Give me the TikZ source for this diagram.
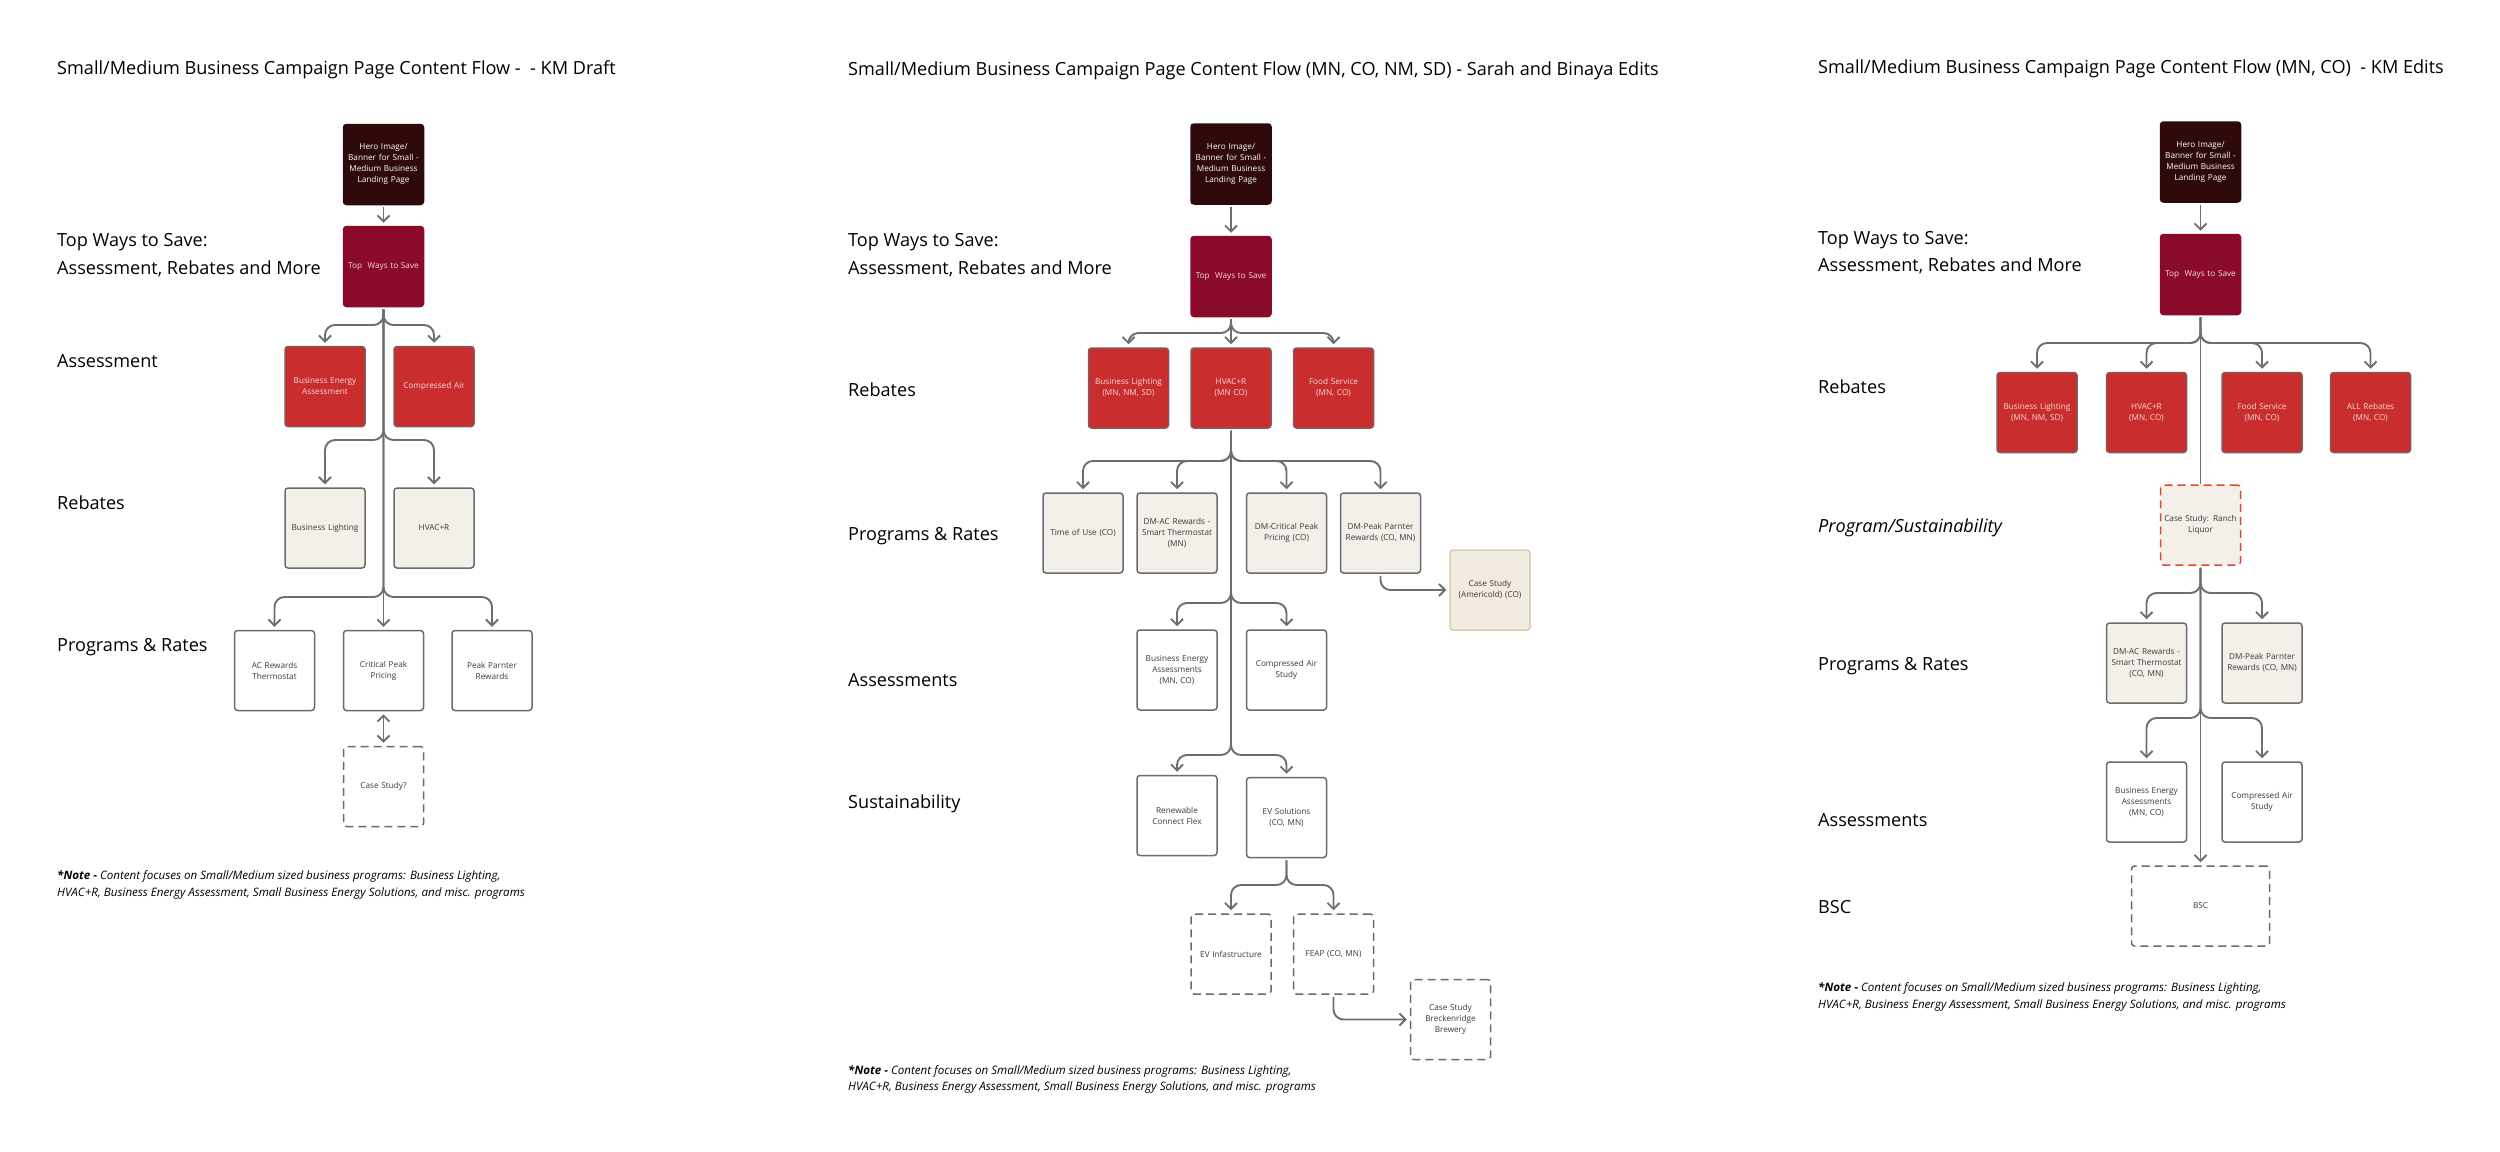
\documentclass[tikz,border=0pt]{standalone}
\usepackage{fontspec}
\setmainfont{Open Sans}
\usetikzlibrary{arrows.meta,calc}
\definecolor{heroC}{HTML}{2E0A0B}
\definecolor{topC}{HTML}{8A0A2C}
\definecolor{redC}{HTML}{C92D2D}
\definecolor{beigeC}{HTML}{F3EFE9}
\definecolor{borderC}{HTML}{6B6B6B}
\definecolor{lineC}{HTML}{6E6E6E}
\definecolor{txtC}{HTML}{3A3A3A}
\definecolor{ameriF}{HTML}{F2EBE0}
\definecolor{ameriB}{HTML}{DCCBB0}
\definecolor{ranchB}{HTML}{E04A2C}
\definecolor{pinkT}{HTML}{F8DADA}
\newcommand\boxfont{\fontsize{8.2}{11}\selectfont}
\newcommand\labfont{\fontsize{18.1}{27}\selectfont}
\newcommand\notefont{\fontsize{11.6}{16.5}\selectfont\itshape}
\tikzset{
  box/.style={rectangle, rounded corners=3pt, minimum width=80pt, minimum height=80pt,
    inner sep=2pt, align=center, text width=74pt, font=\boxfont, line width=1.5pt, text=txtC},
  herobox/.style={box, fill=heroC, draw=heroC, text=white},
  topbox/.style={box, fill=topC, draw=topC, text=pinkT},
  redbox/.style={box, fill=redC, draw=borderC!70!redC, text=pinkT},
  beigebox/.style={box, fill=beigeC, draw=borderC},
  whitebox/.style={box, fill=white, draw=borderC},
  dashbox/.style={box, fill=white, draw=borderC, dash pattern=on 8pt off 5pt},
  amerbox/.style={box, fill=ameriF, draw=ameriB},
  ranchbox/.style={box, fill=beigeC, draw=ranchB, dash pattern=on 8pt off 5pt},
  conn/.style={draw=lineC, line width=1.9pt, rounded corners=10pt, shorten <=2pt},
  arr/.style={conn, -{Straight Barb[length=6pt,width=12pt]}, shorten >=3pt},
  dbl/.style={conn, {Straight Barb[length=6pt,width=12pt]}-{Straight Barb[length=6pt,width=12pt]}, shorten >=3pt, shorten <=3pt},
  lab/.style={anchor=base west, font=\labfont, text=black, inner sep=0pt},
  note/.style={anchor=base west, font=\notefont, text=black, inner sep=0pt},
}
\begin{document}
\begin{tikzpicture}[x=1pt,y=-1pt]
\useasboundingbox[fill=white] (0,0) rectangle (2500,1151);

% ================= Panel 1 =================
\node[lab] (ttl1) at (57,74.3) {Small/Medium Business Campaign Page Content Flow -~ - KM Draft};
\node[lab] (l1a) at (57,246.7) {Top Ways to Save:};
\node[lab] (l1b) at (57,274.3) {Assessment, Rebates and More};
\node[lab] (l1c) at (57,367.7) {Assessment};
\node[lab] (l1d) at (57,509) {Rebates};
\node[lab] (l1e) at (57,651.7) {Programs \& Rates};
\node[note] (n1a) at (57,879.5) {\textbf{*Note -} Content focuses on Small/Medium sized business programs: Business Lighting,};
\node[note] (n1b) at (57,896) {HVAC+R, Business Energy Assessment, Small Business Energy Solutions, and misc. programs};

\node[herobox] (h1) at (383.5,164.5) {Hero Image/\\Banner for Small -\\Medium Business\\Landing Page};
\node[topbox] (t1) at (383.5,266.5) {Top~ Ways to Save};
\node[redbox] (a1a) at (325,386.5) {Business Energy\\Assessment};
\node[redbox] (a1b) at (434,386.5) {Compressed Air};
\node[beigebox] (r1a) at (325,528) {Business Lighting};
\node[beigebox] (r1b) at (434,528) {HVAC+R};
\node[whitebox] (p1a) at (274.5,670.5) {AC Rewards\\Thermostat};
\node[whitebox] (p1b) at (383.5,670.5) {Critical Peak\\Pricing};
\node[whitebox] (p1c) at (492,670.5) {Peak Parnter\\Rewards};
\node[dashbox] (c1) at (383.5,786.5) {Case Study?};

\coordinate (k1a) at (383.5,325);
\coordinate (k1b) at (383.5,440);
\coordinate (k1c) at (383.5,597);

\draw[arr] (h1) -- (t1);
\draw[arr] (t1.south) |- (k1a -| a1a.north) -- (a1a.north);
\draw[arr] (t1.south) |- (k1a -| a1b.north) -- (a1b.north);
\draw[arr] (t1.south) |- (k1b -| r1a.north) -- (r1a.north);
\draw[arr] (t1.south) |- (k1b -| r1b.north) -- (r1b.north);
\draw[arr] (t1.south) |- (k1c -| p1a.north) -- (p1a.north);
\draw[arr] (t1.south) |- (k1c -| p1c.north) -- (p1c.north);
\draw[arr] (t1.south) -- (p1b.north);
\draw[dbl] (p1b.south) -- (c1.north);

% ================= Panel 2 =================
\node[lab] (ttl2) at (848,75) {Small/Medium Business Campaign Page Content Flow (MN, CO, NM, SD) - Sarah and Binaya Edits};
\node[lab] (l2a) at (848,246.7) {Top Ways to Save:};
\node[lab] (l2b) at (848,274) {Assessment, Rebates and More};
\node[lab] (l2c) at (848,396) {Rebates};
\node[lab] (l2d) at (848,540.7) {Programs \& Rates};
\node[lab] (l2e) at (848,686) {Assessments};
\node[lab] (l2f) at (848,808.3) {Sustainability};
\node[note] (n2a) at (848,1074.3) {\textbf{*Note -} Content focuses on Small/Medium sized business programs: Business Lighting,};
\node[note] (n2b) at (848,1090.7) {HVAC+R, Business Energy Assessment, Small Business Energy Solutions, and misc. programs};

\node[herobox] (h2) at (1231,164) {Hero Image/\\Banner for Small -\\Medium Business\\Landing Page};
\node[topbox] (t2) at (1231,276.5) {Top~ Ways to Save};
\node[redbox] (r2a) at (1128.5,388) {Business Lighting\\(MN, NM, SD)};
\node[redbox] (r2b) at (1231,388) {HVAC+R\\(MN CO)};
\node[redbox] (r2c) at (1333.5,388) {Food Service\\(MN, CO)};
\node[beigebox] (p2a) at (1083,533) {Time of Use (CO)};
\node[beigebox] (p2b) at (1177,533) {DM-AC Rewards -\\Smart Thermostat\\(MN)};
\node[beigebox] (p2c) at (1286.5,533) {DM-Critical Peak\\Pricing (CO)};
\node[beigebox] (p2d) at (1380.5,533) {DM-Peak Parnter\\Rewards (CO, MN)};
\node[amerbox] (cs2a) at (1490,590) {Case Study\\(Americold) (CO)};
\node[whitebox] (a2a) at (1177,670) {Business Energy\\Assessments\\(MN, CO)};
\node[whitebox] (a2b) at (1286.5,670) {Compressed Air\\Study};
\node[whitebox] (s2a) at (1177,815.5) {Renewable\\Connect Flex};
\node[whitebox] (s2b) at (1286.5,817.5) {EV Solutions\\(CO, MN)};
\node[dashbox] (e2a) at (1231,954) {EV Infastructure};
\node[dashbox] (e2b) at (1333.5,954) {FEAP (CO, MN)};
\node[dashbox] (cs2b) at (1450.5,1019.5) {Case Study\\Breckenridge\\Brewery};

\coordinate (k2a) at (1231,333);
\coordinate (k2b) at (1231,461);
\coordinate (k2c) at (1231,603);
\coordinate (k2d) at (1231,755);
\coordinate (k2e) at (1286.5,885);

\draw[arr] (h2) -- (t2);
\draw[arr] (t2.south) |- (k2a -| r2a.north) -- (r2a.north);
\draw[arr] (t2.south) -- (r2b.north);
\draw[arr] (t2.south) |- (k2a -| r2c.north) -- (r2c.north);
\draw[arr] (r2b.south) |- (k2b -| p2a.north) -- (p2a.north);
\draw[arr] (r2b.south) |- (k2b -| p2b.north) -- (p2b.north);
\draw[arr] (r2b.south) |- (k2b -| p2c.north) -- (p2c.north);
\draw[arr] (r2b.south) |- (k2b -| p2d.north) -- (p2d.north);
\draw[arr] (p2d.south) |- (cs2a.west);
\draw[arr] (r2b.south) |- (k2c -| a2a.north) -- (a2a.north);
\draw[arr] (r2b.south) |- (k2c -| a2b.north) -- (a2b.north);
\draw[arr] (r2b.south) |- (k2d -| s2a.north) -- (s2a.north);
\draw[arr] (r2b.south) |- (k2d -| s2b.north) -- (s2b.north);
\draw[arr] (s2b.south) |- (k2e -| e2a.north) -- (e2a.north);
\draw[arr] (s2b.south) |- (k2e -| e2b.north) -- (e2b.north);
\draw[arr] (e2b.south) |- (cs2b.west);

% ================= Panel 3 =================
\node[lab] (ttl3) at (1818,73.3) {Small/Medium Business Campaign Page Content Flow (MN, CO)~ - KM Edits};
\node[lab] (l3a) at (1818,244) {Top Ways to Save:};
\node[lab] (l3b) at (1818,271.7) {Assessment, Rebates and More};
\node[lab] (l3c) at (1818,393.3) {Rebates};
\node[lab, font=\labfont\itshape] (l3d) at (1818,532.7) {Program/Sustainability};
\node[lab] (l3e) at (1818,670.7) {Programs \& Rates};
\node[lab] (l3f) at (1818,826) {Assessments};
\node[lab] (l3g) at (1818,913.3) {BSC};
\node[note] (n3a) at (1818,991.7) {\textbf{*Note -} Content focuses on Small/Medium sized business programs: Business Lighting,};
\node[note] (n3b) at (1818,1008.3) {HVAC+R, Business Energy Assessment, Small Business Energy Solutions, and misc. programs};

\node[herobox] (h3) at (2200.5,162) {Hero Image/\\Banner for Small -\\Medium Business\\Landing Page};
\node[topbox] (t3) at (2200.5,274.5) {Top~ Ways to Save};
\node[redbox] (r3a) at (2037,412.5) {Business Lighting\\(MN, NM, SD)};
\node[redbox] (r3b) at (2146.5,412.5) {HVAC+R\\(MN, CO)};
\node[redbox] (r3c) at (2262,412.5) {Food Service\\(MN, CO)};
\node[redbox] (r3d) at (2370.5,412.5) {ALL Rebates\\(MN, CO)};
\node[ranchbox] (ranch) at (2200.5,525) {Case Study: Ranch\\Liquor};
\node[beigebox] (p3a) at (2146.5,663) {DM-AC Rewards -\\Smart Thermostat\\(CO, MN)};
\node[beigebox] (p3b) at (2262,663) {DM-Peak Parnter\\Rewards (CO, MN)};
\node[whitebox] (a3a) at (2146.5,802) {Business Energy\\Assessments\\(MN, CO)};
\node[whitebox] (a3b) at (2262,802) {Compressed Air\\Study};
\node[dashbox, minimum width=138pt, text width=130pt] (bsc) at (2200.5,906) {BSC};

\coordinate (k3a) at (2200.5,343);
\coordinate (k3b) at (2200.5,593);
\coordinate (k3c) at (2200.5,718);

\draw[arr] (h3) -- (t3);
\draw[arr] (t3.south) |- (k3a -| r3a.north) -- (r3a.north);
\draw[arr] (t3.south) |- (k3a -| r3b.north) -- (r3b.north);
\draw[arr] (t3.south) |- (k3a -| r3c.north) -- (r3c.north);
\draw[arr] (t3.south) |- (k3a -| r3d.north) -- (r3d.north);
\draw[conn] (t3.south) -- (ranch.north);
\draw[arr] (ranch.south) |- (k3b -| p3a.north) -- (p3a.north);
\draw[arr] (ranch.south) |- (k3b -| p3b.north) -- (p3b.north);
\draw[arr] (ranch.south) |- (k3c -| a3a.north) -- (a3a.north);
\draw[arr] (ranch.south) |- (k3c -| a3b.north) -- (a3b.north);
\draw[arr] (ranch.south) -- (bsc.north);
\end{tikzpicture}
\end{document}
